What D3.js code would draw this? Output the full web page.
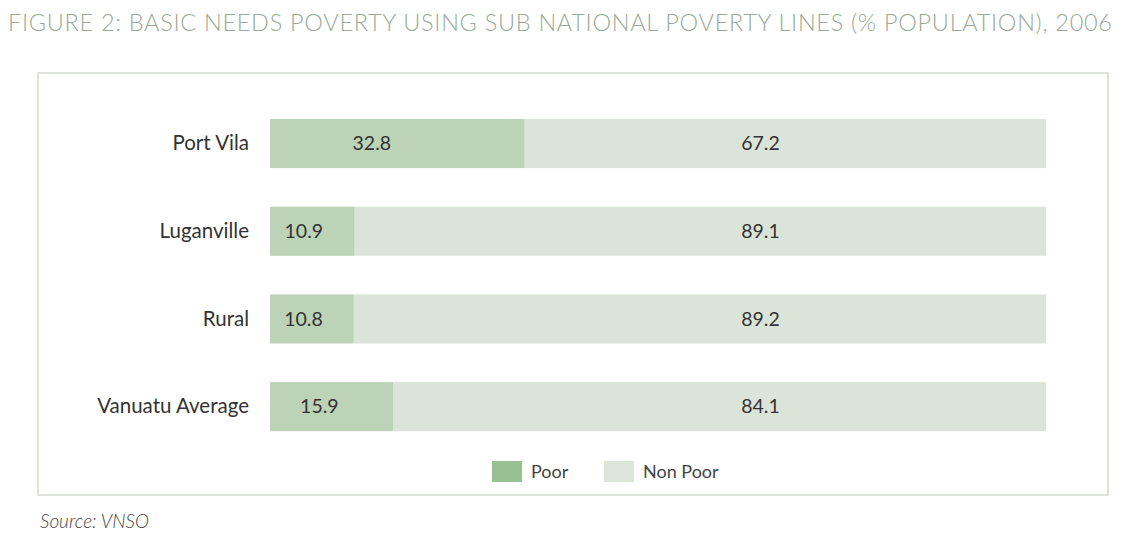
<!DOCTYPE html>
<html>
<head>
<meta charset="utf-8">
<script src="https://cdn.jsdelivr.net/npm/d3@7"></script>
<style>
  html, body { margin: 0; padding: 0; background: #ffffff; }
  svg { display: block; font-family: Lato, "Open Sans", sans-serif; }
</style>
</head>
<body>
<svg id="chart" width="1131" height="535"></svg>
<script>
// Basic needs poverty by area, 2006 (% of population)
const categories = ["Port Vila", "Luganville", "Rural", "Vanuatu Average"];
const poorValues = [32.8, 10.9, 10.8, 15.9];
const nonPoorValues = [67.2, 89.1, 89.2, 84.1];
const seriesNames = ["Poor", "Non Poor"];
const titleText = "FIGURE 2: BASIC NEEDS POVERTY USING SUB NATIONAL POVERTY LINES (% POPULATION), 2006";
const sourceText = "Source: VNSO";

const colors = { poor: "#bcd3b8", nonPoor: "#dbe4d8", poorKey: "#97c192", nonPoorKey: "#dde4da" };

const svg = d3.select("#chart");

const x = d3.scaleLinear().domain([0, 100]).range([270, 1046]);
const y = d3.scaleBand().domain(categories).range([99.7, 450.5])
  .paddingInner(0.44).paddingOuter(0.22);

// Title, spread across the page width
svg.append("text")
  .attr("x", 8).attr("y", 31)
  .attr("fill", "#9aaa97")
  .attr("font-family", "Lato, 'Open Sans', sans-serif")
  .attr("font-size", 23.5)
  .attr("font-weight", 300)
  .attr("textLength", 1104)
  .attr("lengthAdjust", "spacing")
  .text(titleText);

// Frame around the plot
svg.append("rect")
  .attr("x", 38).attr("y", 73).attr("width", 1070).attr("height", 422)
  .attr("fill", "none").attr("stroke", "#dde2db").attr("stroke-width", 2);

// Stacked bars
const rows = categories.map((c, i) => ({ cat: c, poor: poorValues[i], nonPoor: nonPoorValues[i] }));
const barG = svg.append("g");
barG.selectAll("rect.nonpoor").data(rows).join("rect")
  .attr("class", "nonpoor")
  .attr("x", d => x(d.poor))
  .attr("y", d => y(d.cat))
  .attr("width", d => x(d.poor + d.nonPoor) - x(d.poor))
  .attr("height", y.bandwidth())
  .attr("fill", colors.nonPoor);
barG.selectAll("rect.poor").data(rows).join("rect")
  .attr("class", "poor")
  .attr("x", x(0))
  .attr("y", d => y(d.cat))
  .attr("width", d => x(d.poor) - x(0))
  .attr("height", y.bandwidth())
  .attr("fill", colors.poor);

// Value labels
const labelFont = 19.5;
barG.selectAll("text.poorLbl").data(rows).join("text")
  .attr("class", "poorLbl")
  .attr("x", d => x(d.poor * 0.4))
  .attr("y", d => y(d.cat) + y.bandwidth() / 2)
  .attr("dy", "0.35em")
  .attr("text-anchor", "middle")
  .attr("font-size", labelFont)
  .attr("fill", "#333")
  .text(d => d.poor.toFixed(1));
barG.selectAll("text.nonPoorLbl").data(rows).join("text")
  .attr("class", "nonPoorLbl")
  .attr("x", x(63.2))
  .attr("y", d => y(d.cat) + y.bandwidth() / 2)
  .attr("dy", "0.35em")
  .attr("text-anchor", "middle")
  .attr("font-size", labelFont)
  .attr("fill", "#333")
  .text(d => d.nonPoor.toFixed(1));

// Category axis
const yAxis = svg.append("g")
  .attr("transform", `translate(${x(0) - 21},0)`)
  .call(d3.axisLeft(y).tickSize(0).tickPadding(0));
yAxis.select(".domain").remove();
yAxis.selectAll("text")
  .attr("font-family", "Lato, 'Open Sans', sans-serif")
  .attr("font-size", 20.5)
  .attr("fill", "#333");

// Legend
const legend = svg.append("g");
const legendItems = [
  { name: seriesNames[0], color: colors.poorKey, x: 492 },
  { name: seriesNames[1], color: colors.nonPoorKey, x: 604 }
];
legendItems.forEach(it => {
  legend.append("rect").attr("x", it.x).attr("y", 461).attr("width", 30).attr("height", 21).attr("fill", it.color);
  legend.append("text").attr("x", it.x + 39).attr("y", 471.5).attr("dy", "0.35em")
    .attr("font-size", 18).attr("fill", "#444").text(it.name);
});

// Source note
svg.append("text")
  .attr("x", 40).attr("y", 528)
  .attr("font-size", 19).attr("font-style", "italic").attr("font-weight", 300)
  .attr("fill", "#444").text(sourceText);
</script>
</body>
</html>
